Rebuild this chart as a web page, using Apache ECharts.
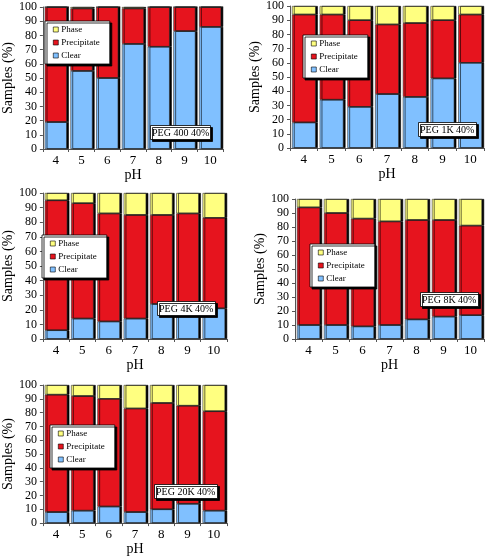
<!DOCTYPE html>
<html>
<head>
<meta charset="utf-8">
<style>html,body{margin:0;padding:0;background:#fff;}#c{width:486px;height:557px;}</style>
<script src="https://cdn.jsdelivr.net/npm/echarts@6/dist/echarts.min.js"></script>
</head>
<body>
<div id="c"></div>
<script>
const categories = ['4','5','6','7','8','9','10'];
const panelTitles = ['PEG 400 40%','PEG 1K 40%','PEG 4K 40%','PEG 8K 40%','PEG 20K 40%'];
const legendNames = ['Phase','Precipitate','Clear'];

const peg400Clear  = [19,55,50,74,72,83,86];
const peg400Precip = [81,44,50,25,28,17,14];
const peg400Phase  = [0,1,0,1,0,0,0];

const peg1kClear  = [18,34,29,38,36,49,60];
const peg1kPrecip = [76,60,61,49,52,41,34];
const peg1kPhase  = [6,6,10,13,12,10,6];

const peg4kClear  = [6,14,12,14,24,17,21];
const peg4kPrecip = [89,79,74,71,61,69,62];
const peg4kPhase  = [5,7,14,15,15,14,17];

const peg8kClear  = [10,10,9,10,14,16,17];
const peg8kPrecip = [84,80,77,74,71,69,64];
const peg8kPhase  = [6,10,14,16,15,15,19];

const peg20kClear  = [8,9,12,8,10,14,9];
const peg20kPrecip = [85,83,78,75,77,71,72];
const peg20kPhase  = [7,8,10,17,13,15,19];

const panelData = [
  [peg400Clear, peg400Precip, peg400Phase],
  [peg1kClear, peg1kPrecip, peg1kPhase],
  [peg4kClear, peg4kPrecip, peg4kPhase],
  [peg8kClear, peg8kPrecip, peg8kPhase],
  [peg20kClear, peg20kPrecip, peg20kPhase]
];

// layout (pixels)
const grids = [
  {left:33, top:7, width:190, height:142},
  {left:290, top:4, width:194, height:144},
  {left:32, top:193, width:195, height:146},
  {left:295, top:199, width:189, height:140},
  {left:33, top:385, width:194, height:144}
];
const legendPos = [[45,21],[303,35],[42,235],[310,244],[50,425]];
const titlePos = [[150,125],[418,122],[157,301],[420,292],[154,484]];

const FONT = "'Liberation Serif', 'Times New Roman', serif";
const colors = {Clear:'#80c0ff', Precipitate:'#e6141e', Phase:'#ffff80'};
const axisColor = '#555';

const option = {
  animation:false,
  backgroundColor:'#fff',
  textStyle:{fontFamily:FONT},
  grid:[], xAxis:[], yAxis:[], series:[], legend:[], title:[]
};

grids.forEach((g,i)=>{
  option.grid.push(g);
  option.xAxis.push({
    type:'category', gridIndex:i, data:categories,
    name:'pH', nameLocation:'middle', nameGap:18,
    nameTextStyle:{fontFamily:FONT, fontSize:14, color:'#000'},
    axisLine:{lineStyle:{color:axisColor}},
    axisTick:{show:true, length:3, lineStyle:{color:axisColor}},
    axisLabel:{fontFamily:FONT, fontSize:13, color:'#000', margin:5},
    splitLine:{show:false}
  });
  option.yAxis.push({
    type:'value', gridIndex:i, min:0, max:100, interval:10,
    name:'Samples (%)', nameLocation:'middle', nameGap:20,
    nameTextStyle:{fontFamily:FONT, fontSize:14, color:'#000'},
    axisLine:{show:true, lineStyle:{color:axisColor}},
    axisTick:{show:true, length:3, lineStyle:{color:axisColor}},
    axisLabel:{fontFamily:FONT, fontSize:12, color:'#000', margin:6},
    splitLine:{show:false}
  });
  const [clear, precip, phase] = panelData[i];
  const mk = (name, data) => ({
    name, type:'bar', stack:'s'+i, xAxisIndex:i, yAxisIndex:i, data,
    barCategoryGap:'14%',
    itemStyle:{color:colors[name], borderColor:'#333', borderWidth:0.6,
      shadowColor:'#000', shadowBlur:0, shadowOffsetX:2, shadowOffsetY:0},
    emphasis:{disabled:true}
  });
  option.series.push(mk('Clear', clear), mk('Precipitate', precip), mk('Phase', phase));
  option.legend.push({
    data:legendNames, orient:'vertical', left:legendPos[i][0], top:legendPos[i][1],
    icon:'rect', itemWidth:5, itemHeight:5, itemGap:4,
    padding:[4,10,4,8],
    backgroundColor:'#fff', borderColor:'#000', borderWidth:0.8,
    shadowColor:'#000', shadowBlur:0, shadowOffsetX:2, shadowOffsetY:2,
    textStyle:{fontFamily:FONT, fontSize:9, color:'#000', padding:[0,0,0,-2]},
    itemStyle:{borderColor:'#000', borderWidth:0.6, shadowBlur:0, shadowOffsetX:0, shadowColor:'transparent'},
    selectedMode:false
  });
  option.title.push({
    text:panelTitles[i], left:titlePos[i][0], top:titlePos[i][1],
    padding:[3,2,2,2],
    backgroundColor:'#fff', borderColor:'#000', borderWidth:0.8,
    shadowColor:'#000', shadowBlur:0, shadowOffsetX:2, shadowOffsetY:2,
    textStyle:{fontFamily:FONT, fontSize:10, fontWeight:'normal', color:'#000'}
  });
});

const chart = echarts.init(document.getElementById('c'), null, {renderer:'canvas'});
chart.setOption(option);
</script>
</body>
</html>
